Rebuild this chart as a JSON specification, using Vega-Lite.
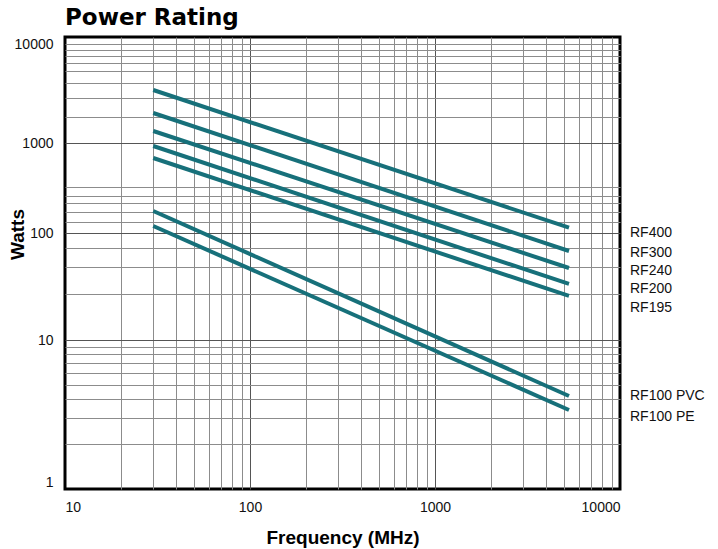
{
  "$schema": "https://vega.github.io/schema/vega-lite/v6.json",
  "autosize": {"type": "none"},
  "padding": {"left": 65, "top": 37, "right": 98, "bottom": 60},
  "width": 555,
  "height": 452,
  "background": "white",
  "title": {
    "text": "Power Rating",
    "anchor": "start",
    "frame": "group",
    "font": "DejaVu Sans",
    "fontSize": 23,
    "fontWeight": "bold",
    "color": "black",
    "baseline": "alphabetic",
    "offset": 11,
    "dy": 22
  },
  "config": {
    "view": {"stroke": "black", "strokeWidth": 3},
    "axis": {
      "ticks": false,
      "tickSize": 0,
      "domain": false,
      "grid": true,
      "labelOverlap": false,
      "labelFlush": true,
      "labelFont": "Liberation Sans, sans-serif",
      "labelFontSize": 14,
      "labelColor": "#111",
      "titleFont": "Liberation Sans, sans-serif",
      "titleFontSize": 19,
      "titleFontWeight": "bold",
      "titleColor": "#000"
    }
  },
  "data": {
    "values": [
      {"series": "RF400", "freq": 30, "watts": 3162, "label_watts": 99.5},
      {"series": "RF400", "freq": 5300, "watts": 114.5, "label_watts": 99.5},
      {"series": "RF300", "freq": 30, "watts": 1919, "label_watts": 65.4},
      {"series": "RF300", "freq": 5300, "watts": 67.9, "label_watts": 65.4},
      {"series": "RF240", "freq": 30, "watts": 1298, "label_watts": 44.4},
      {"series": "RF240", "freq": 5300, "watts": 47.1, "label_watts": 44.4},
      {"series": "RF200", "freq": 30, "watts": 926, "label_watts": 29.8},
      {"series": "RF200", "freq": 5300, "watts": 33.4, "label_watts": 29.8},
      {"series": "RF195", "freq": 30, "watts": 681, "label_watts": 19.8},
      {"series": "RF195", "freq": 5300, "watts": 25.8, "label_watts": 19.8},
      {"series": "RF100 PVC", "freq": 30, "watts": 175.5, "label_watts": 4.23},
      {"series": "RF100 PVC", "freq": 5300, "watts": 4.21, "label_watts": 4.23},
      {"series": "RF100 PE", "freq": 30, "watts": 119.6, "label_watts": 3.06},
      {"series": "RF100 PE", "freq": 5300, "watts": 3.39, "label_watts": 3.06}
    ]
  },
  "layer": [
    {
      "mark": {"type": "line", "color": "#17707a", "strokeWidth": 4},
      "encoding": {
        "x": {
          "field": "freq",
          "type": "quantitative",
          "scale": {"type": "log", "domain": [10, 10000], "nice": false},
          "axis": {
            "title": "Frequency (MHz)",
            "values": [10, 20, 30, 40, 50, 60, 70, 80, 90, 100, 200, 300, 400, 500, 600, 700, 800, 900, 1000, 2000, 3000, 4000, 5000, 6000, 7000, 8000, 9000, 10000],
            "labelExpr": "indexof([10, 100, 1000, 10000], datum.value) >= 0 ? format(datum.value, 'd') : ''",
            "labelPadding": 11,
            "titlePadding": 14,
            "gridColor": {
              "condition": {"test": "datum.value == 100 || datum.value == 1000", "value": "#555555"},
              "value": "#8c8c8c"
            },
            "gridOpacity": {
              "condition": {"test": "datum.value == 10 || datum.value == 10000", "value": 0},
              "value": 1
            }
          }
        },
        "y": {
          "field": "watts",
          "type": "quantitative",
          "scale": {"type": "log", "domain": [1, 10, 100, 1000, 10000], "range": [452, 303, 196, 106, 0], "nice": false},
          "axis": {
            "title": "Watts",
            "values": [1, 2, 3, 4, 5, 6, 7, 8, 9, 10, 27, 48, 73, 100, 134, 169, 217, 259, 322, 1000, 1747, 2641, 3659, 4727, 5684, 6547, 7536, 8590, 10000],
            "labelExpr": "indexof([1, 10, 100, 1000, 10000], datum.value) >= 0 ? format(datum.value, 'd') : ''",
            "labelPadding": 12,
            "titleX": -48,
            "titleY": 197,
            "titleAlign": "center",
            "titleBaseline": "middle",
            "gridColor": {
              "condition": {"test": "datum.value == 10 || datum.value == 100 || datum.value == 1000", "value": "#555555"},
              "value": "#8c8c8c"
            },
            "gridOpacity": {
              "condition": {"test": "datum.value == 1 || datum.value == 10000", "value": 0},
              "value": 1
            }
          }
        },
        "detail": {"field": "series"}
      }
    },
    {
      "transform": [{"filter": "datum.freq > 1000"}],
      "mark": {
        "type": "text",
        "align": "left",
        "baseline": "middle",
        "dx": 10,
        "font": "Liberation Sans, sans-serif",
        "fontSize": 14,
        "color": "#111"
      },
      "encoding": {
        "x": {"datum": 10000},
        "y": {"field": "label_watts", "type": "quantitative"},
        "text": {"field": "series"}
      }
    }
  ]
}
